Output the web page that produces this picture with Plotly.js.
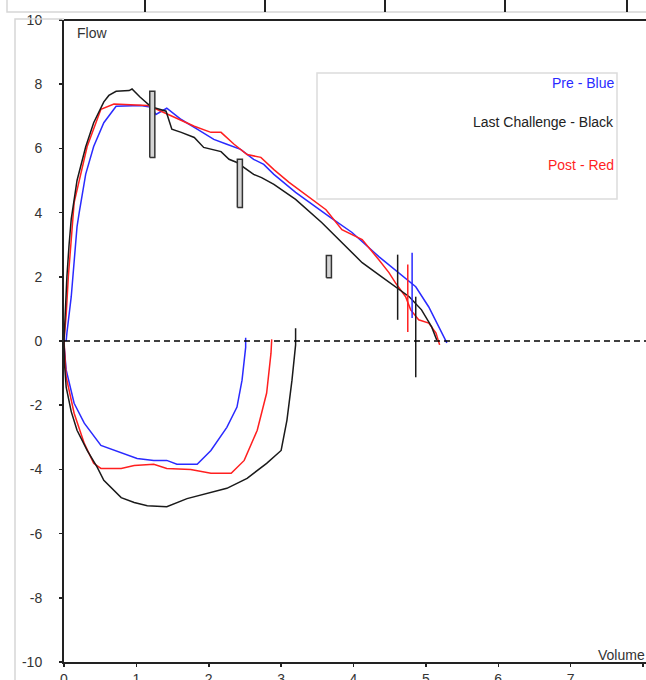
<!DOCTYPE html>
<html>
<head>
<meta charset="utf-8">
<script src="https://cdn.plot.ly/plotly-3.0.1.min.js"></script>
<style>
  html, body { margin: 0; padding: 0; background: #fff; }
  #chart { width: 646px; height: 680px; }
</style>
</head>
<body>
<div id="chart"></div>
<script>
// ---- Data (volume in L, flow in L/s) ----
var xTickVals = [0, 1, 2, 3, 4, 5, 6, 7, 8];
var xTickText = ['0', '1', '2', '3', '4', '5', '6', '7', '8'];
var yTickVals = [-10, -8, -6, -4, -2, 0, 2, 4, 6, 8, 10];
var yTickText = ['-10', '-8', '-6', '-4', '-2', '0', '2', '4', '6', '8', '10'];

// Pre (blue)
var preExpVol  = [0.03, 0.04, 0.10, 0.14, 0.18, 0.21, 0.30, 0.41, 0.55, 0.72, 1.06, 1.21, 1.27, 1.42, 1.62, 1.84, 2.07, 2.25, 2.44, 2.62, 2.76, 2.90, 3.20, 3.66, 3.98, 4.35, 4.63, 4.86, 5.04, 5.18, 5.29];
var preExpFlow = [0.00, 0.25, 1.38, 2.63, 3.56, 4.00, 5.20, 6.06, 6.80, 7.31, 7.34, 7.28, 7.06, 7.25, 6.90, 6.60, 6.28, 6.13, 5.97, 5.66, 5.50, 5.19, 4.63, 3.88, 3.38, 2.63, 2.13, 1.69, 1.06, 0.44, -0.06];
var preInsVol  = [0.00, 0.01, 0.03, 0.14, 0.28, 0.51, 0.79, 1.01, 1.24, 1.42, 1.56, 1.84, 2.03, 2.25, 2.39, 2.46, 2.51, 2.51];
var preInsFlow = [-0.10, -0.50, -0.90, -1.94, -2.56, -3.25, -3.47, -3.66, -3.72, -3.72, -3.84, -3.84, -3.41, -2.69, -2.06, -1.22, -0.20, 0.10];

// Last challenge (black)
var lcExpVol  = [0.00, 0.02, 0.04, 0.07, 0.10, 0.18, 0.30, 0.41, 0.55, 0.62, 0.72, 0.90, 0.94, 1.05, 1.20, 1.41, 1.49, 1.62, 1.80, 1.93, 2.17, 2.28, 2.39, 2.62, 2.73, 2.90, 3.20, 3.56, 3.94, 4.12, 4.39, 4.58, 4.77, 4.94, 5.08, 5.15];
var lcExpFlow = [0.00, 1.20, 2.00, 3.00, 3.80, 5.00, 6.05, 6.80, 7.45, 7.65, 7.78, 7.80, 7.85, 7.60, 7.30, 7.16, 6.60, 6.50, 6.34, 6.03, 5.90, 5.66, 5.56, 5.19, 5.09, 4.88, 4.41, 3.69, 2.84, 2.44, 2.00, 1.69, 1.38, 0.97, 0.44, 0.03];
var lcInsVol  = [0.00, 0.01, 0.03, 0.10, 0.18, 0.32, 0.46, 0.55, 0.79, 0.97, 1.15, 1.42, 1.70, 1.98, 2.25, 2.53, 2.80, 3.00, 3.08, 3.15, 3.20, 3.20];
var lcInsFlow = [0.00, -0.80, -1.44, -2.20, -2.78, -3.41, -3.94, -4.34, -4.88, -5.03, -5.13, -5.16, -4.91, -4.75, -4.59, -4.28, -3.81, -3.41, -2.47, -1.22, -0.12, 0.40];

// Post (red)
var postExpVol  = [0.00, 0.03, 0.06, 0.10, 0.14, 0.32, 0.51, 0.69, 1.15, 1.28, 1.52, 1.80, 2.03, 2.17, 2.35, 2.53, 2.72, 2.90, 3.11, 3.62, 3.84, 4.12, 4.35, 4.49, 4.58, 4.72, 4.79, 4.90, 5.04, 5.14, 5.19];
var postExpFlow = [0.00, 0.80, 2.00, 3.20, 4.31, 6.06, 7.22, 7.38, 7.34, 7.22, 6.97, 6.69, 6.50, 6.50, 6.13, 5.81, 5.72, 5.34, 4.94, 4.09, 3.47, 3.16, 2.53, 2.13, 1.81, 1.38, 0.97, 0.66, 0.56, 0.25, -0.12];
var postInsVol  = [0.00, 0.03, 0.14, 0.28, 0.41, 0.51, 0.79, 0.97, 1.24, 1.42, 1.75, 2.03, 2.31, 2.49, 2.67, 2.80, 2.86, 2.87];
var postInsFlow = [0.00, -1.12, -2.25, -3.19, -3.81, -3.97, -3.97, -3.88, -3.84, -3.97, -4.00, -4.12, -4.12, -3.72, -2.78, -1.62, -0.38, 0.05];

// Range bars (grey boxes)
var boxVol   = [1.22, 2.43, 3.66];
var boxLow   = [5.72, 4.16, 1.97];
var boxHigh  = [7.78, 5.66, 2.66];

// Vertical marker lines
var markVol    = [4.61, 4.81, 4.75, 4.86];
var markLow    = [0.66, 0.72, 0.28, -1.13];
var markHigh   = [2.69, 2.75, 2.38, 1.38];
var markSeries = ['lc', 'pre', 'post', 'lc'];

// Legend labels
var legendText = ['Pre - Blue', 'Last Challenge - Black', 'Post - Red'];

// ---- Styles / layout ----
var COL = { pre: '#2a2aff', lc: '#1a1a1a', post: '#ff1f1f' };
var W = 646, H = 680;
var L = 64, R = 0, T = 20, B = 18;
var pw = W - L - R, ph = H - T - B;
function px(x) { return (x - L) / pw; }
function py(y) { return (H - B - y) / ph; }
var xMax = 8 * pw / (643 - L);
var FONT = 'Liberation Sans, Arial, sans-serif';

function line(x, y, c) {
  return { x: x, y: y, type: 'scatter', mode: 'lines', hoverinfo: 'skip',
           line: { color: c, width: 1.5 }, showlegend: false };
}

var traces = [
  line(preExpVol, preExpFlow, COL.pre),
  line(preInsVol, preInsFlow, COL.pre),
  line(postExpVol, postExpFlow, COL.post),
  line(postInsVol, postInsFlow, COL.post),
  line(lcExpVol, lcExpFlow, COL.lc),
  line(lcInsVol, lcInsFlow, COL.lc)
];

var hw = 0.035;
for (var i = 0; i < boxVol.length; i++) {
  traces.push({
    x: [boxVol[i] - hw, boxVol[i] + hw, boxVol[i] + hw, boxVol[i] - hw, boxVol[i] - hw],
    y: [boxLow[i], boxLow[i], boxHigh[i], boxHigh[i], boxLow[i]],
    type: 'scatter', mode: 'lines', fill: 'toself', fillcolor: '#d4d4d4',
    line: { color: '#333', width: 1.5 }, hoverinfo: 'skip', showlegend: false
  });
}
for (var j = 0; j < markVol.length; j++) {
  traces.push(line([markVol[j], markVol[j]], [markLow[j], markHigh[j]], COL[markSeries[j]]));
}

var shapes = [
  // zero dashed line
  { type: 'line', xref: 'paper', yref: 'y', x0: 0, x1: 1, y0: 0, y1: 0,
    line: { color: '#000', width: 1.5, dash: '6px,4px' } },
  // top border of plot
  { type: 'line', xref: 'paper', yref: 'paper', x0: 0, x1: 1, y0: 1, y1: 1,
    line: { color: '#222', width: 2 } },
  // outer grey frame
  { type: 'path', xref: 'paper', yref: 'paper',
    path: 'M ' + px(15) + ' ' + py(681) + ' L ' + px(15) + ' ' + py(19) + ' L 0 ' + py(19),
    line: { color: '#d6d6d6', width: 1.5 } },
  // legend box
  { type: 'rect', xref: 'paper', yref: 'paper', x0: px(317), x1: px(617), y0: py(199), y1: py(73),
    line: { color: '#dcdcdc', width: 1.5 } },
  // top strip (neighbouring chart)
  { type: 'path', xref: 'paper', yref: 'paper',
    path: 'M ' + px(7) + ' ' + py(-2) + ' L ' + px(7) + ' ' + py(12) + ' L ' + px(648) + ' ' + py(12),
    line: { color: '#d6d6d6', width: 1.5 } }
];
[145, 265, 385, 505, 627].forEach(function (t) {
  shapes.push({ type: 'line', xref: 'paper', yref: 'paper', x0: px(t), x1: px(t), y0: py(-2), y1: py(12),
                line: { color: '#222', width: 2 } });
});

var legendY = [83, 122, 165];
var legendCol = [COL.pre, '#222', COL.post];
var annotations = [
  { text: 'Flow', xref: 'paper', yref: 'paper', x: px(75), y: py(33), xanchor: 'left', yanchor: 'middle',
    showarrow: false, font: { family: FONT, size: 14, color: '#333' } },
  { text: 'Volume', xref: 'paper', yref: 'paper', x: px(647), y: py(655), xanchor: 'right', yanchor: 'middle',
    showarrow: false, font: { family: FONT, size: 14, color: '#333' } }
];
for (var k = 0; k < legendText.length; k++) {
  annotations.push({ text: legendText[k], xref: 'paper', yref: 'paper', x: px(616), y: py(legendY[k]),
    xanchor: 'right', yanchor: 'middle', showarrow: false,
    font: { family: FONT, size: 14, color: legendCol[k] } });
}

var layout = {
  width: W, height: H,
  margin: { l: L, r: R, t: T, b: B, pad: 0 },
  paper_bgcolor: '#fff', plot_bgcolor: '#fff',
  showlegend: false,
  font: { family: FONT, size: 14, color: '#333' },
  xaxis: {
    range: [0, xMax], tickvals: xTickVals, ticktext: xTickText,
    showgrid: false, zeroline: false, showline: true, linecolor: '#222', linewidth: 2,
    ticks: 'outside', ticklen: 3, tickwidth: 1.5, tickcolor: '#222',
    tickfont: { family: FONT, size: 14, color: '#333' }, ticklabelstandoff: 0
  },
  yaxis: {
    range: [-10, 10], tickvals: yTickVals, ticktext: yTickText,
    showgrid: false, zeroline: false, showline: true, linecolor: '#222', linewidth: 2,
    ticks: 'outside', ticklen: 3, tickwidth: 1.5, tickcolor: '#222',
    tickfont: { family: FONT, size: 14, color: '#333' }, ticklabelstandoff: 14
  },
  shapes: shapes,
  annotations: annotations
};

Plotly.newPlot('chart', traces, layout, { displayModeBar: false, staticPlot: true });
</script>
</body>
</html>
